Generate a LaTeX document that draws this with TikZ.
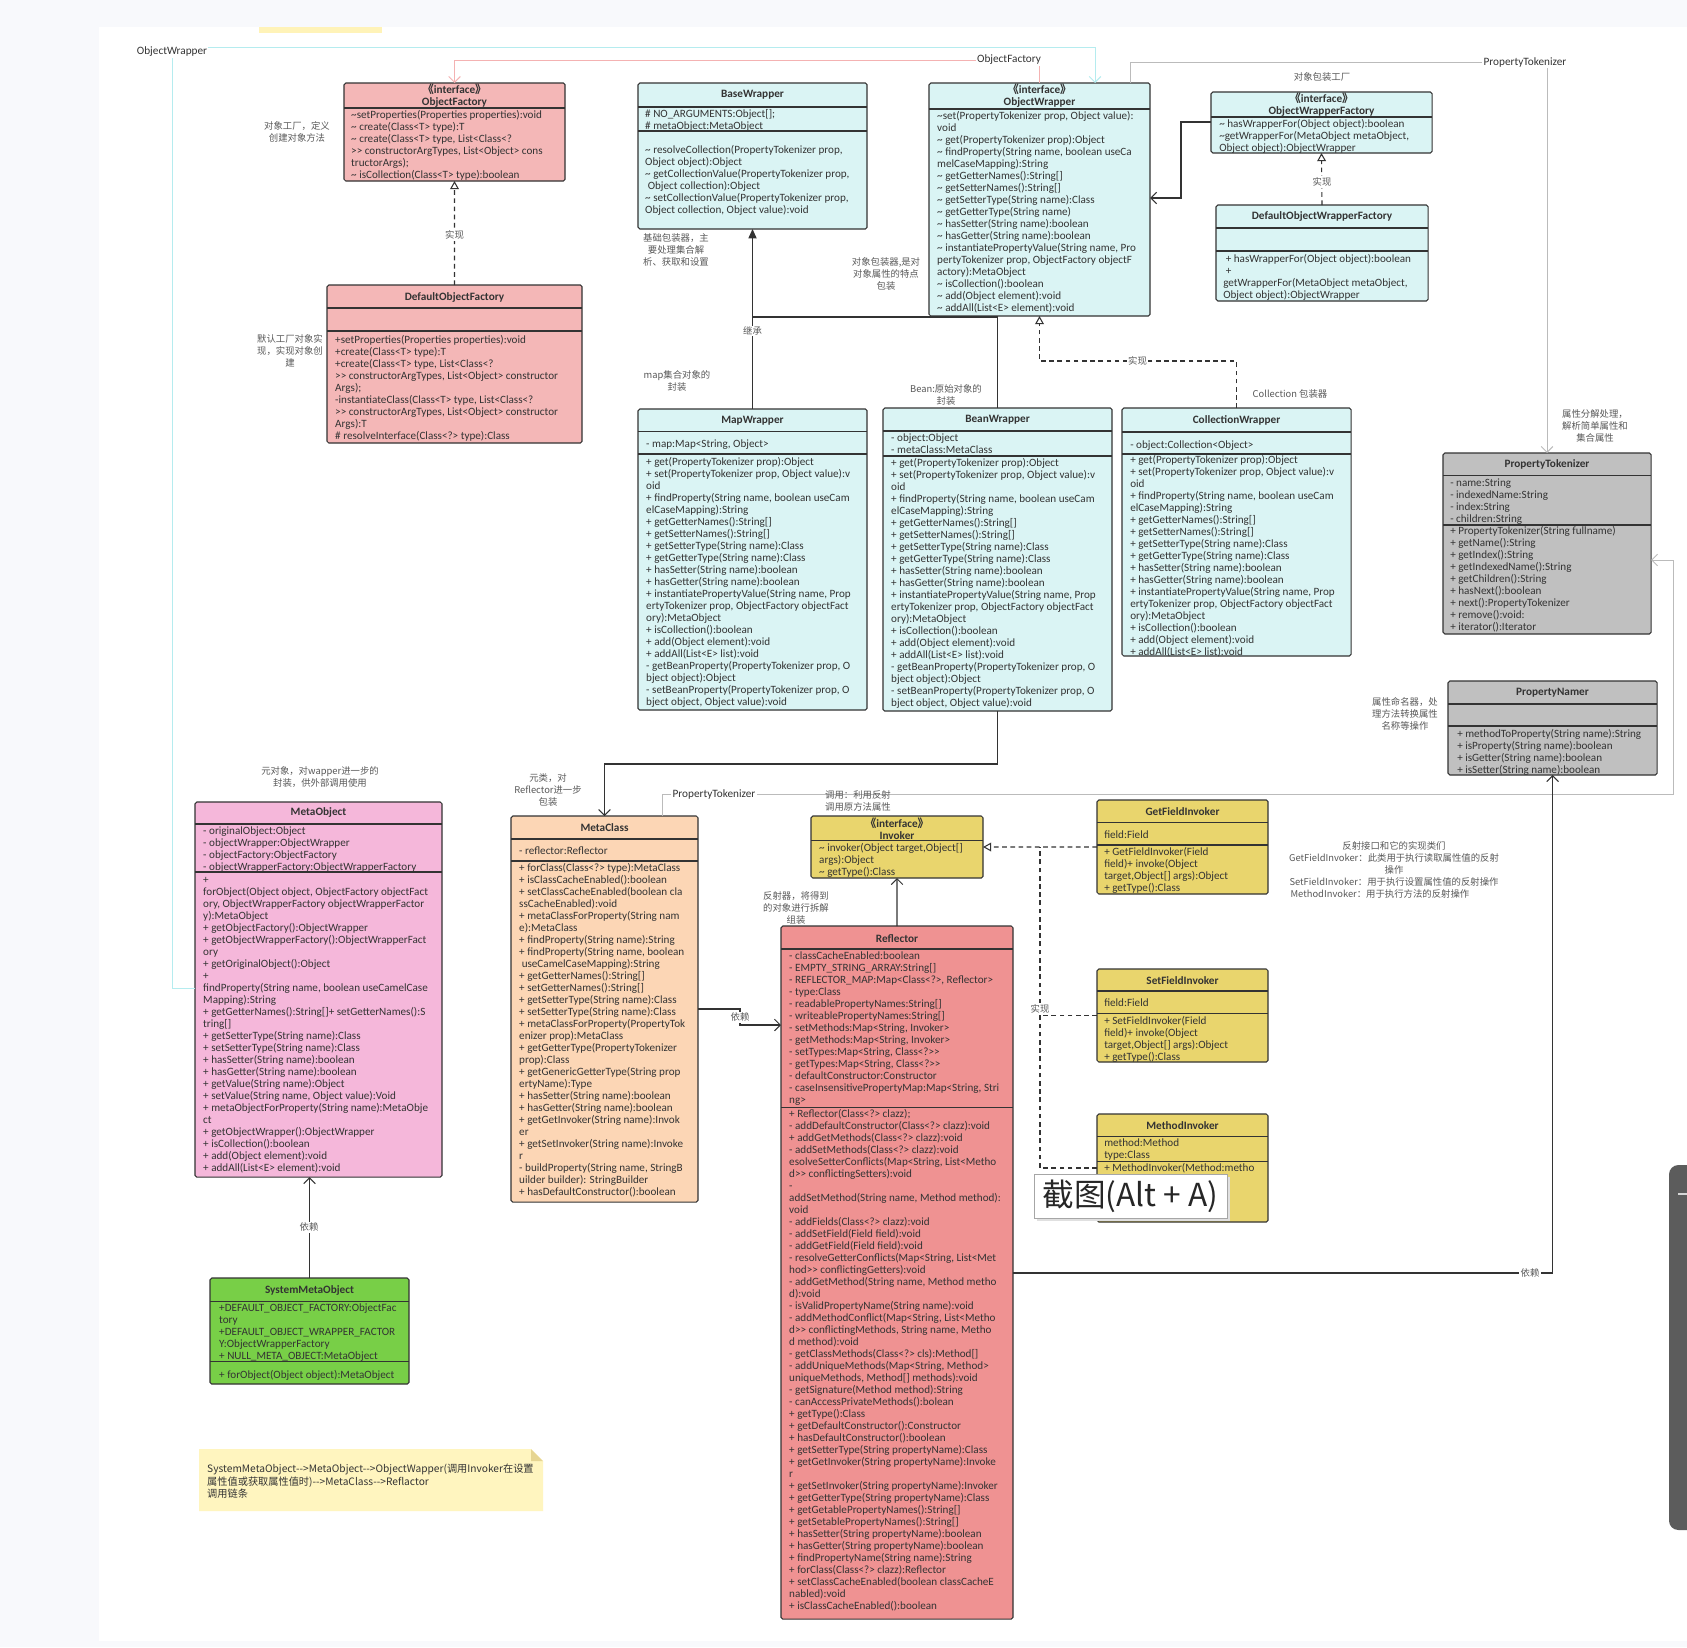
\documentclass[tikz,border=0pt]{standalone}
\usepackage{fontspec}
\setmainfont{Carlito}
\newfontfamily\cjk{Noto Sans CJK SC}
\usetikzlibrary{arrows.meta}

\definecolor{bgpage}{HTML}{F8F9FC}
\definecolor{topbar}{HTML}{FFF3B8}
\definecolor{handle}{HTML}{5C5C5C}
\definecolor{ink}{HTML}{333333}
\definecolor{notegray}{HTML}{595959}
\definecolor{factpink}{HTML}{F4B7B7}
\definecolor{wrapcyan}{HTML}{DAF4F4}
\definecolor{toolgray}{HTML}{C0C0C0}
\definecolor{metapink}{HTML}{F5B7DA}
\definecolor{classpeach}{HTML}{FCD6B5}
\definecolor{invyellow}{HTML}{E9D56D}
\definecolor{reflred}{HTML}{EF9292}
\definecolor{sysgreen}{HTML}{78CF47}
\definecolor{notefill}{HTML}{FFF5BF}
\definecolor{notefold}{HTML}{E6D592}
\definecolor{linecyan}{HTML}{B5ECEF}
\definecolor{linepink}{HTML}{F4B2B2}
\definecolor{linegray}{HTML}{BBBBBB}

\begin{document}
\begin{tikzpicture}[x=0.03cm, y=-0.03cm,
  cls/.style={draw=ink, line width=0.9pt, rounded corners=1.5pt, inner sep=0pt, outer sep=0pt, anchor=north west},
  div/.style={draw=ink, line width=0.9pt},
  hdr/.style={font=\fontsize{9.6}{10.24}\selectfont\bfseries, text=ink, align=center, inner sep=0pt},
  mem/.style={anchor=north west, inner sep=0pt, yshift=-1.4pt, align=left, font=\fontsize{9.5}{10.24}\selectfont, text=ink},
  memo/.style={font=\cjk\fontsize{8}{10.24}\selectfont, text=notegray, align=center, inner sep=0pt},
  tag/.style={fill=white, inner sep=1pt, font=\cjk\fontsize{8}{10}\selectfont, text=notegray},
  lbl/.style={fill=white, inner sep=1pt, font=\fontsize{9.6}{10}\selectfont, text=ink},
  link/.style={draw=ink, line width=0.9pt},
  dep/.style={link, -{Straight Barb[length=5pt, width=10pt]}},
  inh/.style={link, -{Triangle[length=8pt, width=7pt]}},
  dashlink/.style={draw=ink, line width=0.9pt, dash pattern=on 4pt off 3pt},
  real/.style={dashlink, -{Triangle[open, length=7pt, width=7.5pt]}},
  far/.style={line width=0.8pt, -{Straight Barb[length=5pt, width=10pt]}}]
\useasboundingbox (0,0) rectangle (1687,1647);
\fill[bgpage] (0,0) rectangle (1687,1647);
\fill[white] (99,27) rectangle (1687,1641);
\fill[topbar] (259,27) rectangle (382,33);
\fill[handle, rounded corners=8pt] (1669,1165) rectangle (1710,1530);
\draw[white!75!handle, line width=1pt] (1678,1194) -- (1687,1194);

% factories
\node[cls, fill=factpink, minimum width=6.63cm, minimum height=2.94cm] (of) at (344,83) {};
\draw[div] (of.west |- 0,108) -- (of.east |- 0,108);
\node[hdr] (of-h) at (454.5,95.5) {{\cjk 《}interface{\cjk 》}\\ObjectFactory};
\node[mem] (of-m) at (351,108) {\strut\textasciitilde setProperties(Properties properties):void\\
\textasciitilde{} create(Class<T> type):T\\
\textasciitilde{} create(Class<T> type, List<Class<?\\
>{}> constructorArgTypes, List<Object> cons\\
tructorArgs);\\
\textasciitilde{} isCollection(Class<T> type):boolean};

\node[cls, fill=factpink, minimum width=7.65cm, minimum height=4.74cm] (dof) at (327,285) {};
\draw[div] (dof.west |- 0,308) -- (dof.east |- 0,308);
\draw[div] (dof.west |- 0,331) -- (dof.east |- 0,331);
\node[hdr] (dof-h) at (454.5,297) {DefaultObjectFactory};
\node[mem] (dof-m) at (335,333) {\strut+setProperties(Properties properties):void\\
+create(Class<T> type):T\\
+create(Class<T> type, List<Class<?\\
>{}> constructorArgTypes, List<Object> constructor\\
Args);\\
-instantiateClass(Class<T> type, List<Class<?\\
>{}> constructorArgTypes, List<Object> constructor\\
Args):T\\
\# resolveInterface(Class<?> type):Class};

% wrappers
\node[cls, fill=wrapcyan, minimum width=6.87cm, minimum height=4.38cm] (bw) at (638,83) {};
\draw[div] (bw.west |- 0,107) -- (bw.east |- 0,107);
\draw[div] (bw.west |- 0,131) -- (bw.east |- 0,131);
\node[hdr] (bw-h) at (752.5,95) {BaseWrapper};
\node[mem] (bw-a) at (645,107) {\strut\# NO\_ARGUMENTS:Object[];\\
\# metaObject:MetaObject};
\node[mem] (bw-m) at (645,143) {\strut\textasciitilde{} resolveCollection(PropertyTokenizer prop,\\
Object object):Object\\
\textasciitilde{} getCollectionValue(PropertyTokenizer prop,\\
\ Object collection):Object\\
\textasciitilde{} setCollectionValue(PropertyTokenizer prop,\\
Object collection, Object value):void};

\node[cls, fill=wrapcyan, minimum width=6.63cm, minimum height=6.99cm] (ow) at (929,83) {};
\draw[div] (ow.west |- 0,109) -- (ow.east |- 0,109);
\node[hdr] (ow-h) at (1039.5,96) {{\cjk 《}interface{\cjk 》}\\ObjectWrapper};
\node[mem] (ow-m) at (937,109) {\strut\textasciitilde set(PropertyTokenizer prop, Object value):\\
void\\
\textasciitilde{} get(PropertyTokenizer prop):Object\\
\textasciitilde{} findProperty(String name, boolean useCa\\
melCaseMapping):String\\
\textasciitilde{} getGetterNames():String[]\\
\textasciitilde{} getSetterNames():String[]\\
\textasciitilde{} getSetterType(String name):Class\\
\textasciitilde{} getGetterType(String name)\\
\textasciitilde{} hasSetter(String name):boolean\\
\textasciitilde{} hasGetter(String name):boolean\\
\textasciitilde{} instantiatePropertyValue(String name, Pro\\
pertyTokenizer prop, ObjectFactory objectF\\
actory):MetaObject\\
\textasciitilde{} isCollection():boolean\\
\textasciitilde{} add(Object element):void\\
\textasciitilde{} addAll(List<E> element):void};

\node[cls, fill=wrapcyan, minimum width=6.63cm, minimum height=1.83cm] (owf) at (1211,92) {};
\draw[div] (owf.west |- 0,117) -- (owf.east |- 0,117);
\node[hdr] (owf-h) at (1321.5,104.3) {{\cjk 《}interface{\cjk 》}\\ObjectWrapperFactory};
\node[mem] (owf-m) at (1219,117) {\strut\textasciitilde{} hasWrapperFor(Object object):boolean\\
\textasciitilde getWrapperFor(MetaObject metaObject,\\
Object object):ObjectWrapper};

\node[cls, fill=wrapcyan, minimum width=6.36cm, minimum height=2.88cm] (dowf) at (1216,205) {};
\draw[div] (dowf.west |- 0,228) -- (dowf.east |- 0,228);
\draw[div] (dowf.west |- 0,251) -- (dowf.east |- 0,251);
\node[hdr] (dowf-h) at (1322,216.7) {DefaultObjectWrapperFactory};
\node[mem] (dowf-m) at (1223,252) {\strut\ + hasWrapperFor(Object object):boolean\\
\ +\\
getWrapperFor(MetaObject metaObject,\\
Object object):ObjectWrapper};

\node[cls, fill=wrapcyan, minimum width=6.87cm, minimum height=9.03cm] (mw) at (638,409) {};
\draw[div] (mw.west |- 0,431.5) -- (mw.east |- 0,431.5);
\draw[div] (mw.west |- 0,454) -- (mw.east |- 0,454);
\node[hdr] (mw-h) at (752.5,420.7) {MapWrapper};
\node[mem] (mw-a) at (646,437) {\strut - map:Map<String, Object>};
\node[mem] (mw-m) at (646,455) {\strut+ get(PropertyTokenizer prop):Object\\
+ set(PropertyTokenizer prop, Object value):v\\
oid\\
+ findProperty(String name, boolean useCam\\
elCaseMapping):String\\
+ getGetterNames():String[]\\
+ getSetterNames():String[]\\
+ getSetterType(String name):Class\\
+ getGetterType(String name):Class\\
+ hasSetter(String name):boolean\\
+ hasGetter(String name):boolean\\
+ instantiatePropertyValue(String name, Prop\\
ertyTokenizer prop, ObjectFactory objectFact\\
ory):MetaObject\\
+ isCollection():boolean\\
+ add(Object element):void\\
+ addAll(List<E> list):void\\
- getBeanProperty(PropertyTokenizer prop, O\\
bject object):Object\\
- setBeanProperty(PropertyTokenizer prop, O\\
bject object, Object value):void};

\node[cls, fill=wrapcyan, minimum width=6.87cm, minimum height=9.09cm] (bnw) at (883,408) {};
\draw[div] (bnw.west |- 0,431) -- (bnw.east |- 0,431);
\draw[div] (bnw.west |- 0,456) -- (bnw.east |- 0,456);
\node[hdr] (bnw-h) at (997.5,420) {BeanWrapper};
\node[mem] (bnw-a) at (891,431) {\strut - object:Object\\
- metaClass:MetaClass};
\node[mem] (bnw-m) at (891,456) {\strut+ get(PropertyTokenizer prop):Object\\
+ set(PropertyTokenizer prop, Object value):v\\
oid\\
+ findProperty(String name, boolean useCam\\
elCaseMapping):String\\
+ getGetterNames():String[]\\
+ getSetterNames():String[]\\
+ getSetterType(String name):Class\\
+ getGetterType(String name):Class\\
+ hasSetter(String name):boolean\\
+ hasGetter(String name):boolean\\
+ instantiatePropertyValue(String name, Prop\\
ertyTokenizer prop, ObjectFactory objectFact\\
ory):MetaObject\\
+ isCollection():boolean\\
+ add(Object element):void\\
+ addAll(List<E> list):void\\
- getBeanProperty(PropertyTokenizer prop, O\\
bject object):Object\\
- setBeanProperty(PropertyTokenizer prop, O\\
bject object, Object value):void};

\node[cls, fill=wrapcyan, minimum width=6.87cm, minimum height=7.44cm] (cw) at (1122,408) {};
\draw[div] (cw.west |- 0,432) -- (cw.east |- 0,432);
\draw[div] (cw.west |- 0,454) -- (cw.east |- 0,454);
\node[hdr] (cw-h) at (1236.5,420) {CollectionWrapper};
\node[mem] (cw-a) at (1130,438) {\strut - object:Collection<Object>};
\node[mem] (cw-m) at (1130,453.5) {\strut+ get(PropertyTokenizer prop):Object\\
+ set(PropertyTokenizer prop, Object value):v\\
oid\\
+ findProperty(String name, boolean useCam\\
elCaseMapping):String\\
+ getGetterNames():String[]\\
+ getSetterNames():String[]\\
+ getSetterType(String name):Class\\
+ getGetterType(String name):Class\\
+ hasSetter(String name):boolean\\
+ hasGetter(String name):boolean\\
+ instantiatePropertyValue(String name, Prop\\
ertyTokenizer prop, ObjectFactory objectFact\\
ory):MetaObject\\
+ isCollection():boolean\\
+ add(Object element):void\\
+ addAll(List<E> list):void};

% property tools
\node[cls, fill=toolgray, minimum width=6.24cm, minimum height=5.43cm] (pt) at (1443,453) {};
\draw[div] (pt.west |- 0,475.5) -- (pt.east |- 0,475.5);
\draw[div] (pt.west |- 0,525) -- (pt.east |- 0,525);
\node[hdr] (pt-h) at (1547,464.8) {PropertyTokenizer};
\node[mem] (pt-a) at (1450,476) {\strut - name:String\\
- indexedName:String\\
- index:String\\
- children:String};
\node[mem] (pt-m) at (1450,524.5) {\strut+ PropertyTokenizer(String fullname)\\
+ getName():String\\
+ getIndex():String\\
+ getIndexedName():String\\
+ getChildren():String\\
+ hasNext():boolean\\
+ next():PropertyTokenizer\\
+ remove():void:\\
+ iterator():Iterator};

\node[cls, fill=toolgray, minimum width=6.27cm, minimum height=2.82cm] (pn) at (1448,681) {};
\draw[div] (pn.west |- 0,704) -- (pn.east |- 0,704);
\draw[div] (pn.west |- 0,726) -- (pn.east |- 0,726);
\node[hdr] (pn-h) at (1552.5,692.7) {PropertyNamer};
\node[mem] (pn-m) at (1457,727.3) {\strut+ methodToProperty(String name):String\\
+ isProperty(String name):boolean\\
+ isGetter(String name):boolean\\
+ isSetter(String name):boolean};

% meta object and meta class
\node[cls, fill=metapink, minimum width=7.41cm, minimum height=11.25cm] (mo) at (195,802) {};
\draw[div] (mo.west |- 0,824) -- (mo.east |- 0,824);
\draw[div] (mo.west |- 0,872) -- (mo.east |- 0,872);
\node[hdr] (mo-h) at (318.5,812.7) {MetaObject};
\node[mem] (mo-a) at (203,824) {\strut - originalObject:Object\\
- objectWrapper:ObjectWrapper\\
- objectFactory:ObjectFactory\\
- objectWrapperFactory:ObjectWrapperFactory};
\node[mem] (mo-m) at (203,873.3) {\strut+\\
forObject(Object object, ObjectFactory objectFact\\
ory, ObjectWrapperFactory objectWrapperFactor\\
y):MetaObject\\
+ getObjectFactory():ObjectWrapper\\
+ getObjectWrapperFactory():ObjectWrapperFact\\
ory\\
+ getOriginalObject():Object\\
+\\
findProperty(String name, boolean useCamelCase\\
Mapping):String\\
+ getGetterNames():String[]+ setGetterNames():S\\
tring[]\\
+ getSetterType(String name):Class\\
+ setSetterType(String name):Class\\
+ hasSetter(String name):boolean\\
+ hasGetter(String name):boolean\\
+ getValue(String name):Object\\
+ setValue(String name, Object value):Void\\
+ metaObjectForProperty(String name):MetaObje\\
ct\\
+ getObjectWrapper():ObjectWrapper\\
+ isCollection():boolean\\
+ add(Object element):void\\
+ addAll(List<E> element):void};

\node[cls, fill=classpeach, minimum width=5.61cm, minimum height=11.58cm] (mc) at (511,816) {};
\draw[div] (mc.west |- 0,839) -- (mc.east |- 0,839);
\draw[div] (mc.west |- 0,861) -- (mc.east |- 0,861);
\node[hdr] (mc-h) at (604.5,828) {MetaClass};
\node[mem] (mc-a) at (519,844) {\strut - reflector:Reflector};
\node[mem] (mc-m) at (519,861.7) {\strut+ forClass(Class<?> type):MetaClass\\
+ isClassCacheEnabled():boolean\\
+ setClassCacheEnabled(boolean cla\\
ssCacheEnabled):void\\
+ metaClassForProperty(String nam\\
e):MetaClass\\
+ findProperty(String name):String\\
+ findProperty(String name, boolean\\
\ useCamelCaseMapping):String\\
+ getGetterNames():String[]\\
+ setGetterNames():String[]\\
+ getSetterType(String name):Class\\
+ setSetterType(String name):Class\\
+ metaClassForProperty(PropertyTok\\
enizer prop):MetaClass\\
+ getGetterType(PropertyTokenizer\\
prop):Class\\
+ getGenericGetterType(String prop\\
ertyName):Type\\
+ hasSetter(String name):boolean\\
+ hasGetter(String name):boolean\\
+ getGetInvoker(String name):Invok\\
er\\
+ getSetInvoker(String name):Invoke\\
r\\
- buildProperty(String name, StringB\\
uilder builder): StringBuilder\\
+ hasDefaultConstructor():boolean};

% invokers
\node[cls, fill=invyellow, minimum width=5.16cm, minimum height=1.86cm] (inv) at (811,816) {};
\draw[div] (inv.west |- 0,840.5) -- (inv.east |- 0,840.5);
\node[hdr] (inv-h) at (897,828.3) {{\cjk 《}interface{\cjk 》}\\Invoker};
\node[mem] (inv-m) at (819,841.3) {\strut\textasciitilde{} invoker(Object target,Object[]\\
args):Object\\
\textasciitilde{} getType():Class};

\node[cls, fill=invyellow, minimum width=5.13cm, minimum height=2.82cm] (gfi) at (1097,800) {};
\draw[div] (gfi.west |- 0,822.3) -- (gfi.east |- 0,822.3);
\draw[div] (gfi.west |- 0,845) -- (gfi.east |- 0,845);
\node[hdr] (gfi-h) at (1182.5,811.7) {GetFieldInvoker};
\node[mem] (gfi-a) at (1104,828.3) {\strut field:Field};
\node[mem] (gfi-m) at (1104,845.3) {\strut+ GetFieldInvoker(Field\\
field)+ invoke(Object\\
target,Object[] args):Object\\
+ getType():Class};

\node[cls, fill=invyellow, minimum width=5.13cm, minimum height=2.79cm] (sfi) at (1097,969) {};
\draw[div] (sfi.west |- 0,991) -- (sfi.east |- 0,991);
\draw[div] (sfi.west |- 0,1013.3) -- (sfi.east |- 0,1013.3);
\node[hdr] (sfi-h) at (1182.5,980.3) {SetFieldInvoker};
\node[mem] (sfi-a) at (1104,996.7) {\strut field:Field};
\node[mem] (sfi-m) at (1104,1014) {\strut+ SetFieldInvoker(Field\\
field)+ invoke(Object\\
target,Object[] args):Object\\
+ getType():Class};

\node[cls, fill=invyellow, minimum width=5.13cm, minimum height=3.24cm] (mi) at (1097,1114) {};
\draw[div] (mi.west |- 0,1136.7) -- (mi.east |- 0,1136.7);
\draw[div] (mi.west |- 0,1161.7) -- (mi.east |- 0,1161.7);
\node[hdr] (mi-h) at (1182.5,1125.7) {MethodInvoker};
\node[mem] (mi-a) at (1104,1136.7) {\strut method:Method\\
type:Class};
\node[mem] (mi-m) at (1104,1161.7) {\strut+ MethodInvoker(Method:metho\\
d)+ invoke(Object\\
target,Object[]\\
args):Object\\
+ getType():Class};

% reflector
\node[cls, fill=reflred, minimum width=6.96cm, minimum height=20.79cm] (rf) at (781,926) {};
\draw[div] (rf.west |- 0,949) -- (rf.east |- 0,949);
\draw[div] (rf.west |- 0,1107.3) -- (rf.east |- 0,1107.3);
\node[hdr] (rf-h) at (897,938.3) {Reflector};
\node[mem] (rf-a) at (789,949.3) {\strut - classCacheEnabled:boolean\\
- EMPTY\_STRING\_ARRAY:String[]\\
- REFLECTOR\_MAP:Map<Class<?>, Reflector>\\
- type:Class\\
- readablePropertyNames:String[]\\
- writeablePropertyNames:String[]\\
- setMethods:Map<String, Invoker>\\
- getMethods:Map<String, Invoker>\\
- setTypes:Map<String, Class<?>{}>\\
- getTypes:Map<String, Class<?>{}>\\
- defaultConstructor:Constructor\\
- caseInsensitivePropertyMap:Map<String, Stri\\
ng>};
\node[mem] (rf-m) at (789,1107.3) {\strut+ Reflector(Class<?> clazz);\\
- addDefaultConstructor(Class<?> clazz):void\\
+ addGetMethods(Class<?> clazz):void\\
- addSetMethods(Class<?> clazz):void\\
esolveSetterConflicts(Map<String, List<Metho\\
d>{}> conflictingSetters):void\\
-\\
addSetMethod(String name, Method method):\\
void\\
- addFields(Class<?> clazz):void\\
- addSetField(Field field):void\\
- addGetField(Field field):void\\
- resolveGetterConflicts(Map<String, List<Met\\
hod>{}> conflictingGetters):void\\
- addGetMethod(String name, Method metho\\
d):void\\
- isValidPropertyName(String name):void\\
- addMethodConflict(Map<String, List<Metho\\
d>{}> conflictingMethods, String name, Metho\\
d method):void\\
- getClassMethods(Class<?> cls):Method[]\\
- addUniqueMethods(Map<String, Method>\\
uniqueMethods, Method[] methods):void\\
- getSignature(Method method):String\\
- canAccessPrivateMethods():bolean\\
+ getType():Class\\
+ getDefaultConstructor():Constructor\\
+ hasDefaultConstructor():boolean\\
+ getSetterType(String propertyName):Class\\
+ getGetInvoker(String propertyName):Invoke\\
r\\
+ getSetInvoker(String propertyName):Invoker\\
+ getGetterType(String propertyName):Class\\
+ getGetablePropertyNames():String[]\\
+ getSetablePropertyNames():String[]\\
+ hasSetter(String propertyName):boolean\\
+ hasGetter(String propertyName):boolean\\
+ findPropertyName(String name):String\\
+ forClass(Class<?> clazz):Reflector\\
+ setClassCacheEnabled(boolean classCacheE\\
nabled):void\\
+ isClassCacheEnabled():boolean};

% system meta object and note
\node[cls, fill=sysgreen, minimum width=5.97cm, minimum height=3.18cm] (smo) at (210,1278) {};
\draw[div] (smo.west |- 0,1301.7) -- (smo.east |- 0,1301.7);
\draw[div] (smo.west |- 0,1361.7) -- (smo.east |- 0,1361.7);
\node[hdr] (smo-h) at (309.5,1290.7) {SystemMetaObject};
\node[mem] (smo-a) at (219,1301.7) {\strut+DEFAULT\_OBJECT\_FACTORY:ObjectFac\\
tory\\
+DEFAULT\_OBJECT\_WRAPPER\_FACTOR\\
Y:ObjectWrapperFactory\\
+ NULL\_META\_OBJECT:MetaObject};
\node[mem] (smo-m) at (219,1368) {\strut+ forObject(Object object):MetaObject};

\fill[notefill] (199,1449) -- (531,1449) -- (543,1461) -- (543,1511) -- (199,1511) -- cycle;
\fill[notefold] (531,1449) -- (543,1461) -- (531,1461) -- cycle;
\node[mem, font=\cjk\fontsize{8.7}{10.24}\selectfont] (note) at (207,1462) {\strut SystemMetaObject-{}->MetaObject-{}->ObjectWapper(调用Invoker在设置\\
属性值或获取属性值时)-{}->MetaClass-{}->Reflactor\\
调用链条};

% connectors
\draw[far, linecyan] (mo.west |- 0,988) -- (172,988) -- (172,47.5) -| (ow.north -| 1095,0);
\draw[far, linepink] (ow.north -| 1039,0) -- (1039,60) -| (of.north);
\draw[far, linegray] (ow.north -| 1130,0) -- (1130,62) -| (pt.north);
\draw[far, linegray] (mc.north -| 662,0) |- (1673,794) |- (pt.east |- 0,560);
\draw[real] (dof.north) -- (of.south);
\draw[real] (dowf.north) -- (owf.south);
\draw[dep] (owf.west |- 0,122) -- (1181,122) |- (ow.east |- 0,198);
\draw[inh] (mw.north) -- (bw.south);
\draw[link] (bnw.north) |- (mw.north |- 0,317);
\draw[real] (cw.north) |- (ow.south |- 0,361) -- (ow.south);
\draw[dep] (bnw.south) |- (mc.north |- 0,764) -- (mc.north);
\draw[dep] (mc.east |- 0,1009) -- (740,1009) -- (740,1025) -- (rf.west |- 0,1025);
\draw[dep] (rf.north) -- (inv.south);
\draw[real] (gfi.west) -- (inv.east);
\draw[dashlink] (sfi.west) -- (sfi.west -| 1040,0);
\draw[dashlink] (mi.west) -| (gfi.west -| 1040,0);
\draw[dep] (rf.east |- 0,1273) -| (pn.south);
\draw[dep] (smo.north) -- (smo.north |- mo.south);

% connector labels
\node[lbl] (l-ow) at (172,52) {ObjectWrapper};
\node[lbl] (l-of) at (1009,60) {ObjectFactory};
\node[lbl] (l-pt) at (1525,62) {PropertyTokenizer};
\node[lbl] (l-mc) at (714,794) {PropertyTokenizer};
\node[tag] (t-dof) at (454.5,235) {实现};
\node[tag] (t-dowf) at (1322,182) {实现};
\node[tag] (t-inh) at (752.5,331) {继承};
\node[tag] (t-cw) at (1137.5,361) {实现};
\node[tag] (t-mc) at (740,1017) {依赖};
\node[tag] (t-inv) at (1040,1009) {实现};
\node[tag] (t-rf) at (1530,1273) {依赖};
\node[tag] (t-smo) at (309,1227) {依赖};

% notes
\node[memo] (n-of) at (297,132) {对象工厂，定义\\创建对象方法};
\node[memo] (n-dof) at (290,351) {默认工厂对象实\\现，实现对象创\\建};
\node[memo] (n-bw) at (676,250) {基础包装器，主\\要处理集合解\\析、获取和设置};
\node[memo] (n-ow) at (886,274) {对象包装器,是对\\对象属性的特点\\包装};
\node[memo] (n-owf) at (1322,77) {对象包装工厂};
\node[memo] (n-cw) at (1290,394) {Collection 包装器};
\node[memo] (n-mw) at (677,381) {map集合对象的\\封装};
\node[memo] (n-bnw) at (946,395) {Bean:原始对象的\\封装};
\node[memo] (n-pt) at (1595,426) {属性分解处理，\\解析简单属性和\\集合属性};
\node[memo] (n-pn) at (1405,714) {属性命名器，处\\理方法转换属性\\名称等操作};
\node[memo] (n-mo) at (320,777) {元对象，对wapper进一步的\\封装，供外部调用使用};
\node[memo] (n-mc) at (548,790) {元类，对\\Reflector进一步\\包装};
\node[memo, align=left, anchor=west] (n-inv) at (825,801) {调用：利用反射\\调用原方法属性};
\node[memo] (n-rf) at (796,908) {反射器，将得到\\的对象进行拆解\\组装};
\node[memo] (n-impl) at (1394,870) {反射接口和它的实现类们\\GetFieldInvoker：此类用于执行读取属性值的反射\\操作\\SetFieldInvoker：用于执行设置属性值的反射操作\\MethodInvoker：用于执行方法的反射操作\hphantom{操作作}};

% screenshot hint
\fill[black!12] (1037,1177) rectangle (1230,1221);
\node[cls, draw=black!35, line width=0.5pt, rounded corners=0pt, fill=white, minimum width=5.79cm, minimum height=1.32cm, font=\cjk\fontsize{27}{27}\selectfont, text=black!85] (shot) at (1034,1174) {截图(Alt + A)};
\end{tikzpicture}
\end{document}
